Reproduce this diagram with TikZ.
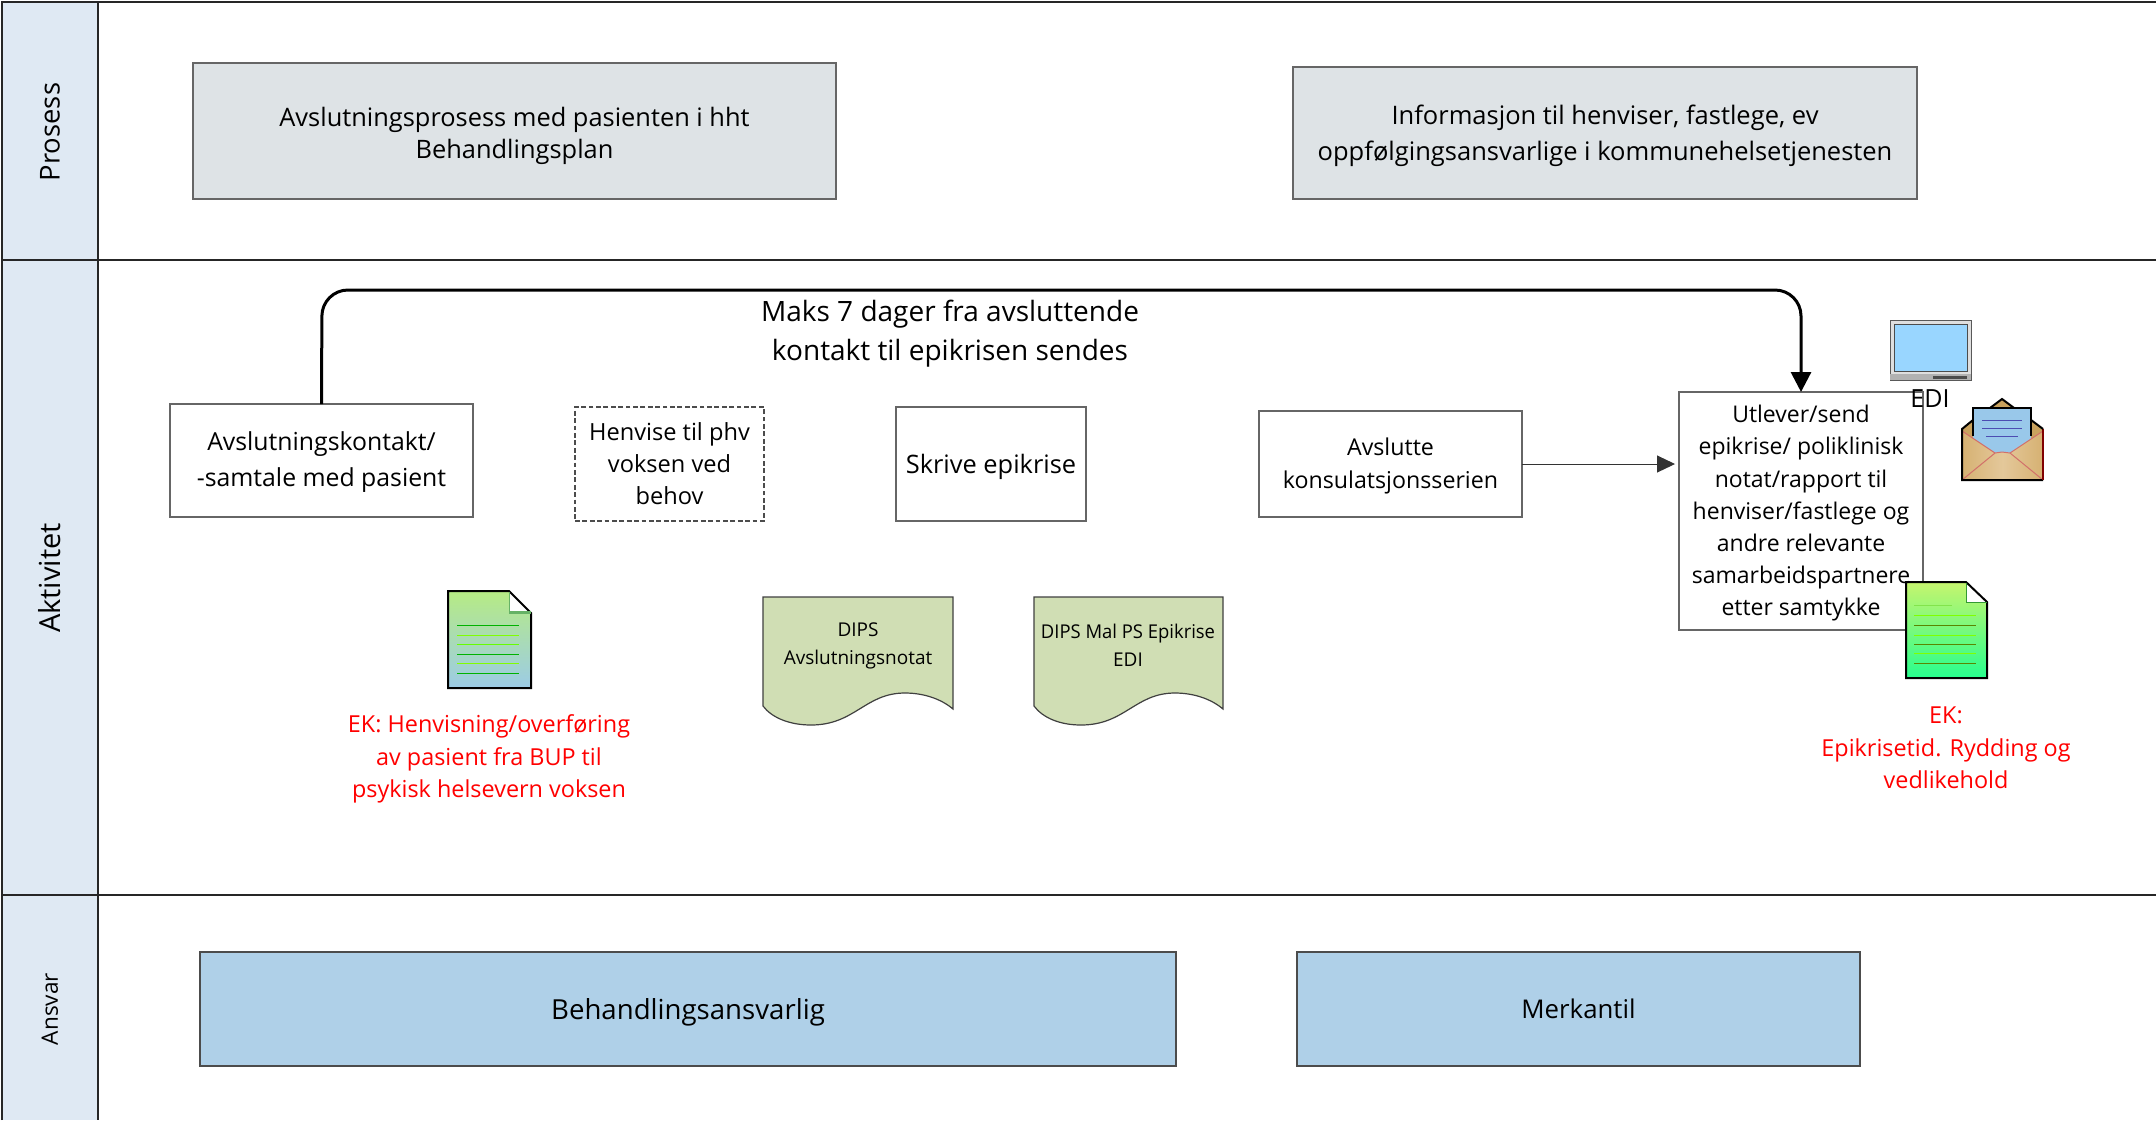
\documentclass[tikz,border=0pt]{standalone}
\usepackage{fontspec}
\setmainfont{Open Sans}
\usetikzlibrary{arrows.meta}
\definecolor{lanefill}{HTML}{DFE9F3}
\definecolor{grayfill}{HTML}{DEE3E6}
\definecolor{bluefill}{HTML}{AFD0E8}
\definecolor{docfill}{HTML}{D0DEB4}
\definecolor{edge}{HTML}{666666}
\definecolor{tanA}{HTML}{D6B172}
\definecolor{tanB}{HTML}{E4C89A}
\definecolor{tanC}{HTML}{C9A25E}
\definecolor{pinkline}{HTML}{D2706A}
\definecolor{paper}{HTML}{99C8EA}
\definecolor{pagetopA}{HTML}{B6EB84}
\definecolor{pagebotA}{HTML}{9CCBE6}
\definecolor{pagetopB}{HTML}{C6F56E}
\definecolor{pagebotB}{HTML}{27FE8E}
\tikzset{
  every node/.style={inner sep=0pt,outer sep=0pt,align=center,text=black},
  frameline/.style={line width=1pt,draw=black!85},
  lanelabel/.style={rotate=90,font=\fontsize{13.7}{16}\selectfont},
  procbox/.style={draw=edge,line width=.7pt,fill=grayfill,font=\fontsize{12.7}{16}\selectfont},
  actbox/.style={draw=edge,line width=.7pt,fill=white,font=\fontsize{12.4}{18}\selectfont},
  smallact/.style={actbox,font=\fontsize{11.6}{16.4}\selectfont},
  dashact/.style={smallact,draw=black!70,dash pattern=on 2.4pt off 1.3pt},
  respbox/.style={draw=black!70,line width=.6pt,fill=bluefill,font=\fontsize{13.8}{16}\selectfont},
  redtext/.style={text=red,font=\fontsize{11.7}{16.2}\selectfont},
  doctext/.style={font=\fontsize{9.5}{14}\selectfont},
  docshape/.style={draw=black!75,line width=.6pt,fill=docfill},
  iconline/.style={line width=.5pt},
  thickarrow/.style={line width=1.5pt,rounded corners=13pt,-{Triangle[length=10pt,width=10pt]}},
  thinarrow/.style={line width=.5pt,draw=black!80,-{Triangle[length=9pt,width=8.5pt]}},
}
\begin{document}
\begin{tikzpicture}[x=.5pt,y=-.5pt]
\useasboundingbox (0,0) rectangle (2156,1120);
% lanes
\fill[white] (0,0) rectangle (2156,1120);
\fill[lanefill] (2,2) rectangle (98,1120);
\draw[frameline] (2,1120) -- (2,2) -- (2156,2);
\draw[frameline] (98,2) -- (98,1120);
\draw[frameline] (2,260) -- (2156,260);
\draw[frameline] (2,895) -- (2156,895);
\node[lanelabel] (lp) at (50,132) {Prosess};
\node[lanelabel,font=\fontsize{14.5}{16}\selectfont] (la) at (50,578) {Aktivitet};
\node[lanelabel,font=\fontsize{11.3}{14}\selectfont] (lr) at (50,1009) {Ansvar};
% process
\node[procbox,minimum width=321.5pt,minimum height=68pt,text depth=.5pt,text height=27.8pt] (p1) at (514.5,131) {Avslutningsprosess med pasienten i hht\\Behandlingsplan};
\node[procbox,font=\fontsize{12.75}{18}\selectfont,minimum width=312pt,minimum height=66pt,text depth=.5pt] (p2) at (1605,133) {Informasjon til henviser, fastlege, ev\\oppfølgingsansvarlige i kommunehelsetjenesten};
% activities
\node[actbox,minimum width=151.5pt,minimum height=56.5pt,text depth=1.5pt] (a1) at (321.5,460.5) {Avslutningskontakt/\\-samtale med pasient};
\node[dashact,font=\fontsize{11.8}{16}\selectfont,minimum width=94.5pt,minimum height=57pt] (a2) at (669.5,464) {Henvise til phv\\voksen ved\\behov};
\node[actbox,font=\fontsize{12.7}{16}\selectfont,minimum width=95pt,minimum height=57pt,text depth=.2pt] (a3) at (991,464) {Skrive epikrise};
\node[smallact,minimum width=131.5pt,minimum height=53pt,text depth=.5pt] (a4) at (1390.5,464) {Avslutte\\konsulatsjonsserien};
\node[smallact,font=\fontsize{11.5}{16.1}\selectfont,minimum width=122pt,minimum height=119pt,text depth=.5pt] (a5) at (1801,511) {Utlever/send\\epikrise/ poliklinisk\\notat/rapport til\\henviser/fastlege og\\andre relevante\\samarbeidspartnere\\etter samtykke};
\node[font=\fontsize{14}{19.5}\selectfont] (maks) at (950,334) {Maks 7 dager fra avsluttende\\kontakt til epikrisen sendes};
% connectors
\draw[thickarrow] (a1.north) -- (322,290) -- (1801,290) -- (a5.north);
\draw[thinarrow,shorten >=2pt] (a4.east) -- (a5.west |- a4.east);
% documents
\draw[docshape] (763,597) -- (953,597) -- (953,709) .. controls (940,698) and (922,693) .. (905,693) .. controls (865,693) and (855,725) .. (811,725) .. controls (790,725) and (772,718) .. (763,706) -- cycle;
\node[doctext] (d1) at (858,646) {DIPS\\Avslutningsnotat};
\draw[docshape] (1034,597) -- (1223,597) -- (1223,709) .. controls (1210,698) and (1192,693) .. (1175,693) .. controls (1135,693) and (1125,725) .. (1081,725) .. controls (1060,725) and (1043,718) .. (1034,706) -- cycle;
\node[doctext] (d2) at (1128,645) {\scalebox{.97}[1]{DIPS Mal PS Epikrise}\\EDI};
% page icon 1
\shade[top color=pagetopA,bottom color=pagebotA] (448,591) -- (509,591) -- (531,613) -- (531,688) -- (448,688) -- cycle;
\fill[white] (509,591) -- (531,613) -- (509,613) -- cycle;
\draw[line width=1pt] (448,591) -- (509,591) -- (531,613) -- (531,688) -- (448,688) -- cycle;
\fill[green!50!black!60] (509,611) rectangle (531,613.5);
\draw[line width=.5pt,green!50!black!60] (509,592) -- (509,613);
\foreach \yy/\cc in {625/green!70!black,635/green!50!yellow,644/green!60!yellow,654/green!70!black,663/green!50!yellow,673/green!70!black}{\draw[iconline,\cc] (457,\yy) -- (519,\yy);}
\node[redtext] (ek1) at (489,759) {EK: Henvisning/overføring\\av pasient fra BUP til\\psykisk helsevern voksen};
% laptop
\fill[gray!25,draw=gray!70!black,line width=.5pt] (1890,320) rectangle (1971,380);
\fill[gray!60] (1890,374) rectangle (1971,380);
\fill[black!70] (1933,376) rectangle (1967,379);
\draw[line width=.4pt,black!70,fill=blue!40!cyan!40!white] (1894,324) rectangle (1967,371);
\node[font=\fontsize{12.5}{15}\selectfont] (edi) at (1930,399) {EDI};
% envelope
\fill[tanC] (1962,429) -- (1973,420) -- (1990,407) -- (2002,399) -- (2014,407) -- (2031,420) -- (2043,429) -- (2043,480) -- (1962,480) -- cycle;
\draw[line width=1pt] (1990,408) -- (2002,399) -- (2014,408);
\fill[paper] (1973,408) rectangle (2031,455);
\draw[line width=1.2pt] (1973,436) -- (1973,408) -- (2031,408) -- (2031,436);
\foreach \aa/\bb/\yy in {1982/2022/420,1982/2022/428,1986/2018/436}{\draw[iconline,blue!40!gray] (\aa,\yy) -- (\bb,\yy);}
\shade[left color=tanA,right color=tanA,middle color=tanB] (1962,431) -- (1995,453) -- (2002,452) -- (2010,453) -- (2043,431) -- (2043,480) -- (1962,480) -- cycle;
\draw[iconline,pinkline] (1962,431) -- (1995,453) -- (2002,452) -- (2010,453) -- (2043,431);
\draw[iconline,pinkline] (1962,480) -- (1995,453) (2010,453) -- (2043,480);
\draw[line width=1pt] (1973,420) -- (1962,429) -- (1962,480) -- (2043,480);
\draw[line width=1pt,red!50!black] (2043,429) -- (2043,480);
\draw[line width=1pt] (2031,420) -- (2043,429);
% page icon 2
\shade[top color=pagetopB,bottom color=pagebotB] (1906,582) -- (1966,582) -- (1987,602) -- (1987,678) -- (1906,678) -- cycle;
\fill[white] (1966,582) -- (1987,602) -- (1966,602) -- cycle;
\draw[line width=1pt] (1906,582) -- (1966,582) -- (1987,602) -- (1987,678) -- (1906,678) -- cycle;
\draw[line width=.5pt,green!50!black!80] (1966,583) -- (1966,602) -- (1987,602);
\draw[iconline,orange!30!green!70] (1914,605) -- (1952,605);
\foreach \yy in {615,635,653}{\draw[iconline,green!50!yellow] (1914,\yy) -- (1976,\yy);}
\foreach \yy in {625,644,663}{\draw[iconline,orange!50!green!70!black] (1914,\yy) -- (1976,\yy);}
\node[redtext] (ek2) at (1946,748) {EK:\\Epikrisetid. Rydding og\\vedlikehold};
% responsible
\node[respbox,minimum width=488pt,minimum height=57pt,text depth=.2pt] (r1) at (688,1009) {Behandlingsansvarlig};
\node[respbox,font=\fontsize{12.9}{15}\selectfont,minimum width=281.5pt,minimum height=57pt] (r2) at (1578.5,1009) {Merkantil};
\end{tikzpicture}
\end{document}
